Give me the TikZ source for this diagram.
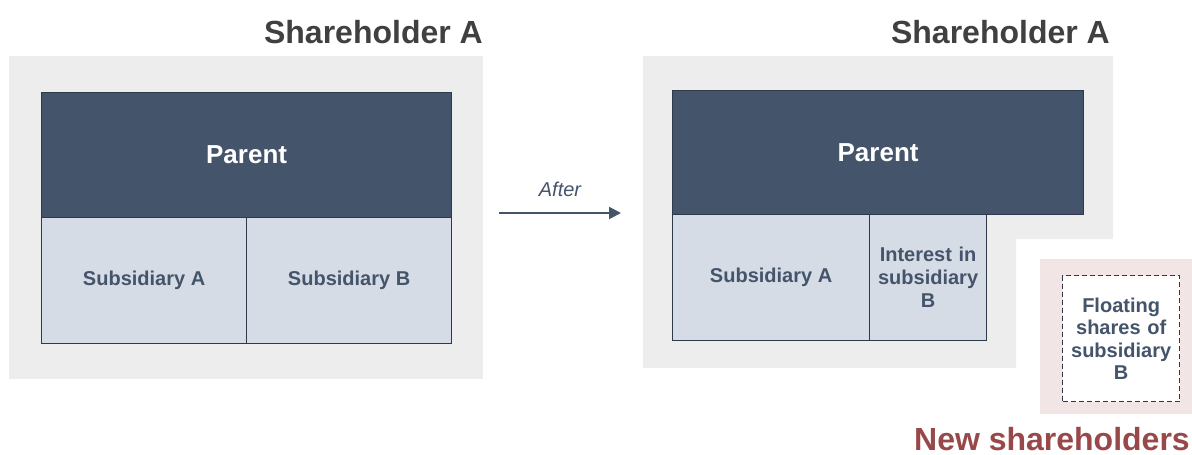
\documentclass[tikz,border=0pt]{standalone}
\usepackage{fontspec}
\setmainfont{Liberation Sans}
\usetikzlibrary{arrows.meta}
\definecolor{navy}{HTML}{44546A}
\definecolor{lightblue}{HTML}{D6DCE5}
\definecolor{bggray}{HTML}{EDEDED}
\definecolor{bgpink}{HTML}{F2E5E5}
\definecolor{headgray}{HTML}{404040}
\definecolor{newred}{HTML}{984848}
\definecolor{edgedark}{HTML}{2E3A4A}
\begin{document}
\begin{tikzpicture}[x=1pt,y=-1pt,
  box/.style={draw=edgedark,line width=1.2pt,inner sep=0pt,anchor=north west,align=center,font=\bfseries\fontsize{20}{23}\selectfont,text=navy},
  parentbox/.style={box,fill=navy,text=white,font=\bfseries\fontsize{26}{30}\selectfont},
  subbox/.style={box,fill=lightblue},
  head/.style={font=\bfseries\fontsize{32}{38}\selectfont,text=headgray,inner sep=0pt},
  bg/.style={fill=bggray,draw=none}]
\useasboundingbox (0,0) rectangle (1192,455);
% left panel
\fill[bggray] (9,56) rectangle (483,379);
\node[head,anchor=base east] (hA) at (483,43) {Shareholder A};
\node[parentbox,minimum width=410pt,minimum height=125pt] (p1) at (41,92) {Parent};
\node[subbox,minimum width=205pt,minimum height=126pt] (sa1) at (41,217) {Subsidiary A};
\node[subbox,minimum width=205pt,minimum height=126pt] (sb1) at (246,217) {Subsidiary B};
% arrow
\coordinate (a1) at (499,213);
\coordinate (a2) at (621,213);
\draw[navy,line width=2pt,-{Triangle[length=12pt,width=12pt]}] (a1) -- (a2) node[midway,above=15pt,font=\itshape\fontsize{20}{24}\selectfont,text=navy,inner sep=0pt] (af) {After};
% right panel
\fill[bggray] (643,56) -- (1113,56) -- (1113,239) -- (1016,239) -- (1016,368) -- (643,368) -- cycle;
\node[head,anchor=base east] (hA2) at (1110,43) {Shareholder A};
\node[parentbox,minimum width=411pt,minimum height=124pt] (p2) at (672,90) {Parent};
\node[subbox,minimum width=197pt,minimum height=126pt] (sa2) at (672,214) {Subsidiary A};
\node[subbox,minimum width=117pt,minimum height=126pt,text width=115pt] (ib) at (869,214) {Interest in\\subsidiary\\B};
% new shareholders
\fill[bgpink] (1040,259) rectangle (1192,414);
\node[draw=edgedark,dash pattern=on 5pt off 3pt,line width=1.3pt,fill=white,anchor=north west,minimum width=117pt,minimum height=126pt,inner sep=0pt,align=center,text width=115pt,font=\bfseries\fontsize{20}{22.5}\selectfont,text=navy] (fs) at (1062,275) {Floating\\shares of\\subsidiary\\B};
\node[font=\bfseries\fontsize{32}{38}\selectfont,text=newred,inner sep=0pt,anchor=base east] (ns) at (1190,450) {New shareholders};
\end{tikzpicture}
\end{document}
